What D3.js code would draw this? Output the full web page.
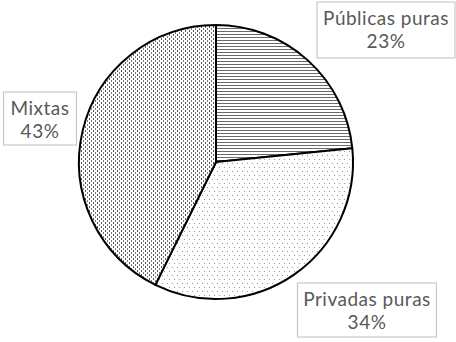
<!DOCTYPE html>
<html>
<head>
<meta charset="utf-8">
<script src="https://cdn.jsdelivr.net/npm/d3@7"></script>
<style>
  body { margin: 0; background: #fff; }
  text { font-family: Lato, "Open Sans", sans-serif; fill: #595959; }
</style>
</head>
<body>
<div id="chart"></div>
<script>
// share of companies by ownership type
var categories = ["Públicas puras", "Privadas puras", "Mixtas"];
var values = [23.4, 33.9, 42.7];
var pctLabels = ["23%", "34%", "43%"];

var width = 456, height = 342;
var cx = 216, cy = 162, radius = 137;

var svg = d3.select("#chart").append("svg")
    .attr("width", width)
    .attr("height", height);

var defs = svg.append("defs");

// horizontal lines
var p0 = defs.append("pattern").attr("id", "pat0")
    .attr("patternUnits", "userSpaceOnUse").attr("width", 4).attr("height", 3);
p0.append("rect").attr("width", 4).attr("height", 3).attr("fill", "#fff");
p0.append("rect").attr("y", 1).attr("width", 4).attr("height", 1).attr("fill", "#6a6a6a");

// sparse light dots
var p1 = defs.append("pattern").attr("id", "pat1")
    .attr("patternUnits", "userSpaceOnUse").attr("width", 5).attr("height", 8);
p1.append("rect").attr("width", 5).attr("height", 8).attr("fill", "#fff");
p1.append("rect").attr("x", 1).attr("y", 1).attr("width", 1).attr("height", 1).attr("fill", "#9a9a9a");
p1.append("rect").attr("x", 3).attr("y", 5).attr("width", 1).attr("height", 1).attr("fill", "#9a9a9a");

// dense dashes
var p2 = defs.append("pattern").attr("id", "pat2")
    .attr("patternUnits", "userSpaceOnUse").attr("width", 4).attr("height", 4);
p2.append("rect").attr("width", 4).attr("height", 4).attr("fill", "#fff");
p2.append("rect").attr("x", 1).attr("y", 0).attr("width", 1).attr("height", 2).attr("fill", "#555");
p2.append("rect").attr("x", 3).attr("y", 2).attr("width", 1).attr("height", 2).attr("fill", "#777");

var pie = d3.pie().sort(null).value(function (d) { return d; });
var arc = d3.arc().innerRadius(0).outerRadius(radius);

var g = svg.append("g").attr("transform", "translate(" + cx + "," + cy + ")");

g.selectAll("path")
    .data(pie(values))
    .enter().append("path")
    .attr("d", arc)
    .attr("fill", function (d, i) { return "url(#pat" + i + ")"; })
    .attr("stroke", "#000")
    .attr("stroke-width", 2)
    .attr("stroke-linejoin", "round");

// label boxes, same order as categories: [centre x, top y, box width, box height]
var boxes = [
    [386, 2, 138, 56],
    [367, 283, 139, 54],
    [40, 92, 73, 53]
];

var lab = svg.selectAll(".lab")
    .data(categories)
    .enter().append("g")
    .attr("class", "lab")
    .attr("transform", function (d, i) { return "translate(" + boxes[i][0] + "," + boxes[i][1] + ")"; });

lab.append("rect")
    .attr("x", function (d, i) { return -boxes[i][2] / 2; })
    .attr("width", function (d, i) { return boxes[i][2]; })
    .attr("height", function (d, i) { return boxes[i][3]; })
    .attr("fill", "#fff")
    .attr("stroke", "#c8c8c8")
    .attr("stroke-width", 1.2);

lab.append("text")
    .attr("text-anchor", "middle")
    .attr("y", 23)
    .attr("font-size", 19)
    .attr("letter-spacing", 0.5)
    .text(function (d) { return d; });

lab.append("text")
    .attr("text-anchor", "middle")
    .attr("y", 46)
    .attr("font-size", 19)
    .attr("letter-spacing", 0.5)
    .text(function (d, i) { return pctLabels[i]; });
</script>
</body>
</html>
